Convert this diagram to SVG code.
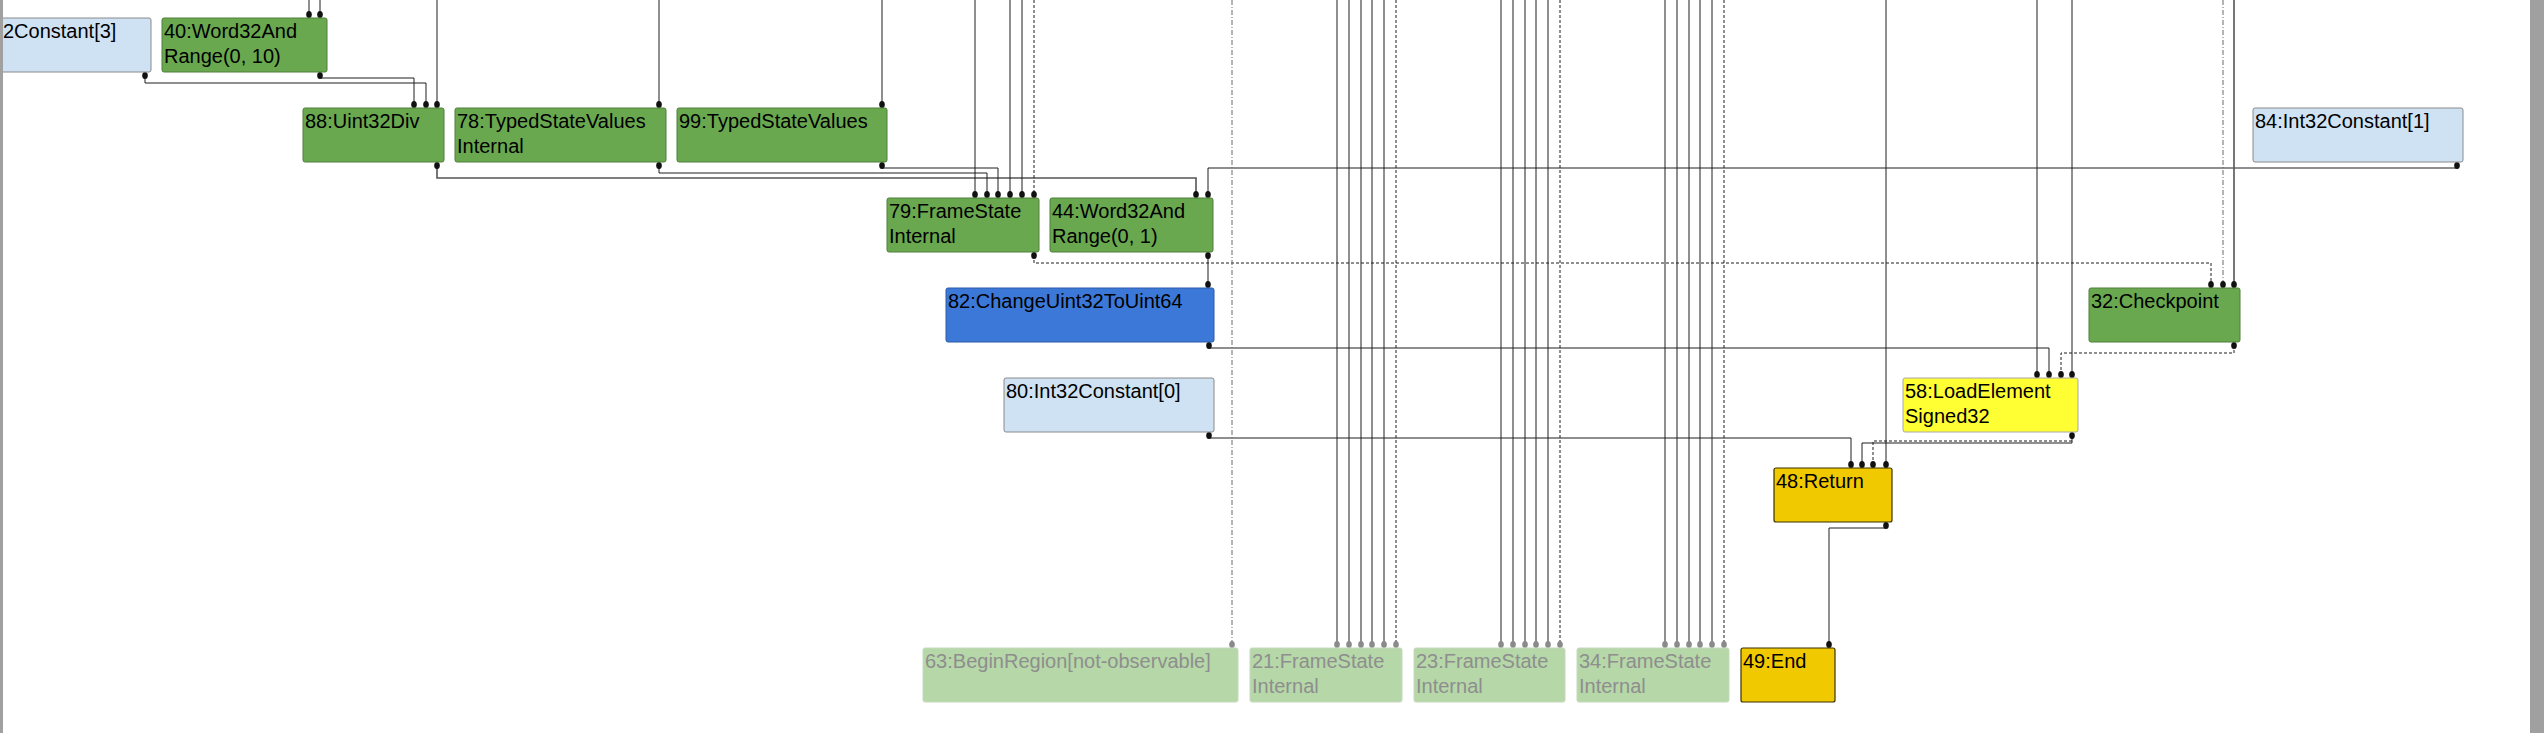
<svg xmlns="http://www.w3.org/2000/svg" width="2544" height="733" viewBox="0 0 2544 733">
<style>
.bg{fill:#ffffff}
.bar{fill:#a0a0a0}
.e{fill:none;stroke:#1e1e1e;stroke-width:1}
.eg{fill:none;stroke:#555;stroke-width:1.6}
.ds{stroke-dasharray:3 2}
.dd{stroke:#6a6a6a;stroke-dasharray:5 2 1 2}
.d{fill:#111}
.dg{fill:#8a8a8a}
.t{font-family:"Liberation Sans",Arial,sans-serif;font-size:20px;fill:#000}
.tf{fill:#8e8e8e}
.nc{fill:#cfe2f3;stroke:#8a8a8a;stroke-width:1}
.ng{fill:#6aa84f;stroke:#4f7f3b;stroke-width:1}
.nb{fill:#3c78d8;stroke:#2b5aa6;stroke-width:1}
.ny{fill:#ffff33;stroke:#a8a8a8;stroke-width:1}
.no{fill:#f1c900;stroke:#3b3300;stroke-width:1.2}
.nf{fill:#b6d7a8;stroke:#c6dabd;stroke-width:1}
</style>
<rect class="bg" x="0" y="0" width="2544" height="733"/>

<g id="connectors">
  <!-- from above into 40 -->
  <path class="e" d="M309,0 V15"/>
  <path class="e" d="M320,0 V15"/>
  <!-- 2 -> 88 -->
  <path class="e" d="M145,75 V83 H426 V105"/>
  <!-- 40 -> 88 -->
  <path class="e" d="M320,75 V78 H414 V105"/>
  <path class="e" d="M437,0 V105"/>
  <path class="e" d="M659,0 V105"/>
  <path class="e" d="M882,0 V105"/>
  <!-- 88 -> 44 -->
  <path class="eg" d="M437,165 V178 H1196 V195"/>
  <!-- 78 -> 79 -->
  <path class="e" d="M659,165 V173 H987 V195"/>
  <!-- 99 -> 79 -->
  <path class="e" d="M882,165 V168 H998 V195"/>
  <path class="e" d="M975,0 V195"/>
  <path class="e" d="M1010,0 V195"/>
  <path class="e" d="M1022,0 V195"/>
  <path class="e ds" d="M1034,0 V195"/>
  <!-- 84 -> 44 -->
  <path class="e" d="M2457,165 V168 H1208 V195"/>
  <!-- 44 -> 82 -->
  <path class="e" d="M1208,255 V285"/>
  <!-- 79 -> 32 -->
  <path class="e ds" d="M1034,255 V263 H2211 V285"/>
  <path class="e dd" d="M2223,0 V285"/>
  <path class="eg" d="M2234,0 V285"/>
  <!-- 82 -> 58 -->
  <path class="e" d="M1209,345 V348 H2049 V375"/>
  <path class="e" d="M2037,0 V375"/>
  <path class="e" d="M2072,0 V375"/>
  <!-- 32 -> 58 -->
  <path class="e ds" d="M2234,345 V353 H2061 V375"/>
  <!-- 80 -> 48 -->
  <path class="e" d="M1209,435 V438 H1851 V465"/>
  <!-- 58 -> 48 -->
  <path class="e" d="M2072,435 V443 H1862 V465"/>
  <path class="e ds" d="M2072,441 H1873 V465"/>
  <path class="e" d="M1886,0 V465"/>
  <!-- 48 -> 49 -->
  <path class="e" d="M1886,525 V528 H1829 V645"/>
  <!-- from above into faded nodes -->
  <path class="e dd" d="M1232,0 V645"/>
  <path class="e" d="M1337,0 V645"/>
  <path class="e" d="M1349,0 V645"/>
  <path class="e" d="M1361,0 V645"/>
  <path class="e" d="M1372,0 V645"/>
  <path class="e" d="M1384,0 V645"/>
  <path class="e ds" d="M1396,0 V645"/>
  <path class="e" d="M1501,0 V645"/>
  <path class="e" d="M1513,0 V645"/>
  <path class="e" d="M1525,0 V645"/>
  <path class="e" d="M1536,0 V645"/>
  <path class="e" d="M1548,0 V645"/>
  <path class="e ds" d="M1560,0 V645"/>
  <path class="e" d="M1665,0 V645"/>
  <path class="e" d="M1677,0 V645"/>
  <path class="e" d="M1689,0 V645"/>
  <path class="e" d="M1700,0 V645"/>
  <path class="e" d="M1712,0 V645"/>
  <path class="e ds" d="M1724,0 V645"/>

  <!-- input dots -->
  <g class="d">
    <ellipse cx="309" cy="14.5" rx="2.8" ry="3.5"/>
    <ellipse cx="320" cy="14.5" rx="2.8" ry="3.5"/>
    <ellipse cx="414" cy="104.5" rx="2.8" ry="3.5"/>
    <ellipse cx="426" cy="104.5" rx="2.8" ry="3.5"/>
    <ellipse cx="437" cy="104.5" rx="2.8" ry="3.5"/>
    <ellipse cx="659" cy="104.5" rx="2.8" ry="3.5"/>
    <ellipse cx="882" cy="104.5" rx="2.8" ry="3.5"/>
    <ellipse cx="975" cy="194.5" rx="2.8" ry="3.5"/>
    <ellipse cx="987" cy="194.5" rx="2.8" ry="3.5"/>
    <ellipse cx="998" cy="194.5" rx="2.8" ry="3.5"/>
    <ellipse cx="1010" cy="194.5" rx="2.8" ry="3.5"/>
    <ellipse cx="1022" cy="194.5" rx="2.8" ry="3.5"/>
    <ellipse cx="1034" cy="194.5" rx="2.8" ry="3.5"/>
    <ellipse cx="1196" cy="194.5" rx="2.8" ry="3.5"/>
    <ellipse cx="1208" cy="194.5" rx="2.8" ry="3.5"/>
    <ellipse cx="1208" cy="284.5" rx="2.8" ry="3.5"/>
    <ellipse cx="2211" cy="284.5" rx="2.8" ry="3.5"/>
    <ellipse cx="2223" cy="284.5" rx="2.8" ry="3.5"/>
    <ellipse cx="2234" cy="284.5" rx="2.8" ry="3.5"/>
    <ellipse cx="2037" cy="374.5" rx="2.8" ry="3.5"/>
    <ellipse cx="2049" cy="374.5" rx="2.8" ry="3.5"/>
    <ellipse cx="2061" cy="374.5" rx="2.8" ry="3.5"/>
    <ellipse cx="2072" cy="374.5" rx="2.8" ry="3.5"/>
    <ellipse cx="1851" cy="464.5" rx="2.8" ry="3.5"/>
    <ellipse cx="1862" cy="464.5" rx="2.8" ry="3.5"/>
    <ellipse cx="1873" cy="464.5" rx="2.8" ry="3.5"/>
    <ellipse cx="1886" cy="464.5" rx="2.8" ry="3.5"/>
    <ellipse cx="1829" cy="644.5" rx="2.8" ry="3.5"/>
  </g>
  <g class="dg">
    <ellipse cx="1232" cy="644.5" rx="2.8" ry="3.5"/>
    <ellipse cx="1337" cy="644.5" rx="2.8" ry="3.5"/>
    <ellipse cx="1349" cy="644.5" rx="2.8" ry="3.5"/>
    <ellipse cx="1361" cy="644.5" rx="2.8" ry="3.5"/>
    <ellipse cx="1372" cy="644.5" rx="2.8" ry="3.5"/>
    <ellipse cx="1384" cy="644.5" rx="2.8" ry="3.5"/>
    <ellipse cx="1396" cy="644.5" rx="2.8" ry="3.5"/>
    <ellipse cx="1501" cy="644.5" rx="2.8" ry="3.5"/>
    <ellipse cx="1513" cy="644.5" rx="2.8" ry="3.5"/>
    <ellipse cx="1525" cy="644.5" rx="2.8" ry="3.5"/>
    <ellipse cx="1536" cy="644.5" rx="2.8" ry="3.5"/>
    <ellipse cx="1548" cy="644.5" rx="2.8" ry="3.5"/>
    <ellipse cx="1560" cy="644.5" rx="2.8" ry="3.5"/>
    <ellipse cx="1665" cy="644.5" rx="2.8" ry="3.5"/>
    <ellipse cx="1677" cy="644.5" rx="2.8" ry="3.5"/>
    <ellipse cx="1689" cy="644.5" rx="2.8" ry="3.5"/>
    <ellipse cx="1700" cy="644.5" rx="2.8" ry="3.5"/>
    <ellipse cx="1712" cy="644.5" rx="2.8" ry="3.5"/>
    <ellipse cx="1724" cy="644.5" rx="2.8" ry="3.5"/>
  </g>
  <!-- output dots -->
  <g class="d">
    <ellipse cx="145" cy="75.5" rx="2.8" ry="3.5"/>
    <ellipse cx="320" cy="75.5" rx="2.8" ry="3.5"/>
    <ellipse cx="437" cy="165.5" rx="2.8" ry="3.5"/>
    <ellipse cx="659" cy="165.5" rx="2.8" ry="3.5"/>
    <ellipse cx="882" cy="165.5" rx="2.8" ry="3.5"/>
    <ellipse cx="2457" cy="165.5" rx="2.8" ry="3.5"/>
    <ellipse cx="1034" cy="255.5" rx="2.8" ry="3.5"/>
    <ellipse cx="1208" cy="255.5" rx="2.8" ry="3.5"/>
    <ellipse cx="1209" cy="345.5" rx="2.8" ry="3.5"/>
    <ellipse cx="2234" cy="345.5" rx="2.8" ry="3.5"/>
    <ellipse cx="1209" cy="435.5" rx="2.8" ry="3.5"/>
    <ellipse cx="2072" cy="435.5" rx="2.8" ry="3.5"/>
    <ellipse cx="1886" cy="525.5" rx="2.8" ry="3.5"/>
  </g>
</g>

<g id="n2"><rect class="nc" x="-20" y="18" width="171" height="54" rx="2"/><text class="t" x="3" y="38">2Constant[3]</text></g>
<g id="n40"><rect class="ng" x="162" y="18" width="165" height="54" rx="2"/><text class="t" x="164" y="38">40:Word32And</text><text class="t" x="164" y="63">Range(0, 10)</text></g>
<g id="n88"><rect class="ng" x="303" y="108" width="141" height="54" rx="2"/><text class="t" x="305" y="128">88:Uint32Div</text></g>
<g id="n78"><rect class="ng" x="455" y="108" width="211" height="54" rx="2"/><text class="t" x="457" y="128">78:TypedStateValues</text><text class="t" x="457" y="153">Internal</text></g>
<g id="n99"><rect class="ng" x="677" y="108" width="210" height="54" rx="2"/><text class="t" x="679" y="128">99:TypedStateValues</text></g>
<g id="n84"><rect class="nc" x="2253" y="108" width="210" height="54" rx="2"/><text class="t" x="2255" y="128">84:Int32Constant[1]</text></g>
<g id="n79"><rect class="ng" x="887" y="198" width="152" height="54" rx="2"/><text class="t" x="889" y="218">79:FrameState</text><text class="t" x="889" y="243">Internal</text></g>
<g id="n44"><rect class="ng" x="1050" y="198" width="163" height="54" rx="2"/><text class="t" x="1052" y="218">44:Word32And</text><text class="t" x="1052" y="243">Range(0, 1)</text></g>
<g id="n82"><rect class="nb" x="946" y="288" width="268" height="54" rx="2"/><text class="t" x="948" y="308">82:ChangeUint32ToUint64</text></g>
<g id="n32"><rect class="ng" x="2089" y="288" width="151" height="54" rx="2"/><text class="t" x="2091" y="308">32:Checkpoint</text></g>
<g id="n80"><rect class="nc" x="1004" y="378" width="210" height="54" rx="2"/><text class="t" x="1006" y="398">80:Int32Constant[0]</text></g>
<g id="n58"><rect class="ny" x="1903" y="378" width="175" height="54" rx="2"/><text class="t" x="1905" y="398">58:LoadElement</text><text class="t" x="1905" y="423">Signed32</text></g>
<g id="n48"><rect class="no" x="1774" y="468" width="118" height="54" rx="2"/><text class="t" x="1776" y="488">48:Return</text></g>
<g id="n63"><rect class="nf" x="923" y="648" width="315" height="54" rx="2"/><text class="t tf" x="925" y="668">63:BeginRegion[not-observable]</text></g>
<g id="n21"><rect class="nf" x="1250" y="648" width="152" height="54" rx="2"/><text class="t tf" x="1252" y="668">21:FrameState</text><text class="t tf" x="1252" y="693">Internal</text></g>
<g id="n23"><rect class="nf" x="1414" y="648" width="151" height="54" rx="2"/><text class="t tf" x="1416" y="668">23:FrameState</text><text class="t tf" x="1416" y="693">Internal</text></g>
<g id="n34"><rect class="nf" x="1577" y="648" width="152" height="54" rx="2"/><text class="t tf" x="1579" y="668">34:FrameState</text><text class="t tf" x="1579" y="693">Internal</text></g>
<g id="n49"><rect class="no" x="1741" y="648" width="94" height="54" rx="2"/><text class="t" x="1743" y="668">49:End</text></g>

<rect class="bar" x="0" y="0" width="3" height="733"/>
<rect class="bar" x="2530" y="0" width="14" height="733"/>
</svg>
